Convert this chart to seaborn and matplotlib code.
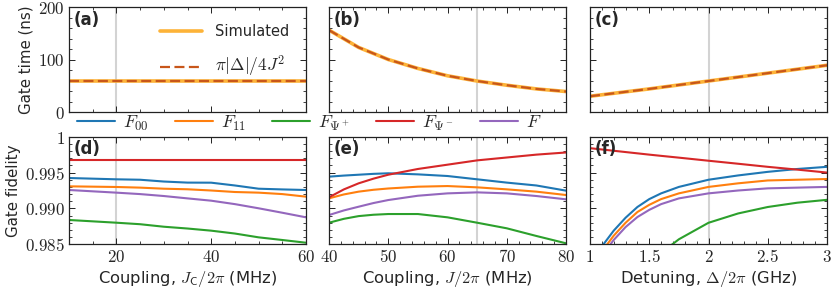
import numpy as np
import pandas as pd
import matplotlib
matplotlib.use('Agg')
import matplotlib.pyplot as plt
from matplotlib.ticker import MultipleLocator, FuncFormatter
import seaborn as sns

sns.set_theme(style='ticks')
plt.rcParams['font.family'] = ['DejaVu Sans']
plt.rcParams['mathtext.fontset'] = 'cm'
plt.rcParams['font.size'] = 10

# ---------------- data ----------------
# (a) gate time vs coupler strength J_C
jc_time = [10, 20, 30, 40, 50, 60]
time_a = [59, 59, 59, 59, 59, 59]
# (b) gate time vs J
j_time = [40, 45, 50, 55, 60, 65, 70, 75, 80]
time_b = [156, 123, 100, 83, 69, 59, 51, 44, 39]
# (c) gate time vs detuning
d_time = [1.0, 1.5, 2.0, 2.5, 3.0]
time_c = [30, 44, 59, 74, 89]

# (d) fidelity vs J_C
jc = [10, 20, 25, 30, 35, 40, 45, 50, 55, 60]
d_F00 = [0.99424, 0.99406, 0.99400, 0.99375, 0.99360, 0.99359, 0.99320, 0.99275, 0.99265, 0.99257]
d_F11 = [0.99308, 0.99299, 0.99290, 0.99275, 0.99267, 0.99250, 0.99229, 0.99220, 0.99200, 0.99164]
d_Fp = [0.98839, 0.98801, 0.98780, 0.98745, 0.98720, 0.98690, 0.98650, 0.98597, 0.98560, 0.98522]
d_Fm = [0.99670, 0.99670, 0.99670, 0.99670, 0.99670, 0.99670, 0.99670, 0.99670, 0.99670, 0.99670]
d_F = [0.99257, 0.99220, 0.99200, 0.99173, 0.99140, 0.99108, 0.99060, 0.99002, 0.98940, 0.98876]

# (e) fidelity vs J
jj = [40, 42.5, 45, 47.5, 50, 55, 60, 65, 70, 75, 80]
e_F00 = [0.99443, 0.99458, 0.99470, 0.99482, 0.99490, 0.99475, 0.99452, 0.99406, 0.99360, 0.99320, 0.99248]
e_F11 = [0.99141, 0.99195, 0.99234, 0.99260, 0.99278, 0.99303, 0.99312, 0.99294, 0.99266, 0.99234, 0.99187]
e_Fp = [0.98801, 0.98855, 0.98893, 0.98912, 0.98922, 0.98922, 0.98876, 0.98801, 0.98723, 0.98616, 0.98514]
e_Fm = [0.99155, 0.99265, 0.99350, 0.99415, 0.99470, 0.99550, 0.99610, 0.99670, 0.99710, 0.99750, 0.99780]
e_F = [0.98908, 0.98972, 0.99024, 0.99075, 0.99117, 0.99177, 0.99210, 0.99224, 0.99210, 0.99173, 0.99127]

# (f) fidelity vs detuning
dd = [1.0, 1.1, 1.2, 1.3, 1.4, 1.5, 1.6, 1.75, 2.0, 2.25, 2.5, 2.75, 3.0]
f_F00 = [0.9822, 0.9847, 0.9869, 0.9887, 0.9902, 0.9913, 0.9921, 0.9930, 0.9940, 0.9946, 0.9951, 0.9955, 0.9958]
f_F11 = [0.9812, 0.9840, 0.9862, 0.9880, 0.9895, 0.9905, 0.9913, 0.9921, 0.9930, 0.9935, 0.9939, 0.9940, 0.9941]
f_Fp = [0.9700, 0.9730, 0.9760, 0.9785, 0.9805, 0.9822, 0.9838, 0.9857, 0.9880, 0.9893, 0.9902, 0.9908, 0.9912]
f_Fm = [0.9984, 0.99822, 0.99804, 0.99786, 0.99768, 0.9975, 0.99733, 0.99708, 0.99665, 0.99623, 0.9958, 0.99541, 0.9950]
f_F = [0.9805, 0.9834, 0.9856, 0.9874, 0.9888, 0.9898, 0.9906, 0.9914, 0.9921, 0.9925, 0.9928, 0.9929, 0.9930]

markers_x = [20, 65, 2.0]
fid_names = ['$F_{00}$', '$F_{11}$', '$F_{\\Psi^+}$', '$F_{\\Psi^-}$', '$F$']
fid_colors = ['#1f77b4', '#ff7f0e', '#2ca02c', '#d62728', '#9467bd']
sim_color = '#fdb338'
ana_color = '#c8561a'

fig = plt.figure(figsize=(8.31, 2.91), dpi=100)
W, H = 831, 291
lefts = [69, 329, 590]
aw = 237
axes_top = [fig.add_axes([l / W, 1 - 112 / H, aw / W, 105 / H]) for l in lefts]
axes_bot = [fig.add_axes([l / W, 1 - 244.3 / H, aw / W, 107.6 / H]) for l in lefts]

time_sets = [(jc_time, time_a), (j_time, time_b), (d_time, time_c)]
fid_sets = [(jc, [d_F00, d_F11, d_Fp, d_Fm, d_F]),
            (jj, [e_F00, e_F11, e_Fp, e_Fm, e_F]),
            (dd, [f_F00, f_F11, f_Fp, f_Fm, f_F])]
xlims = [(10, 60), (40, 80), (1, 3)]
xmaj = [20, 10, 0.5]
xmin = [5, 2, 0.1]
labels_top = ['(a)', '(b)', '(c)']
labels_bot = ['(d)', '(e)', '(f)']
xlabels = ['Coupling, $J_\\mathsf{C}/2\\pi$ (MHz)',
           'Coupling, $J/2\\pi$ (MHz)',
           'Detuning, $\\Delta/2\\pi$ (GHz)']


def mfmt(v, pos):
    s = f'{v:g}'
    return f'${s}$'


def style(ax, i):
    ax.set_xlim(*xlims[i])
    ax.xaxis.set_major_locator(MultipleLocator(xmaj[i]))
    ax.xaxis.set_minor_locator(MultipleLocator(xmin[i]))
    ax.tick_params(which='both', direction='in', top=True, right=True,
                   labelsize=12.2, pad=3, color='#222222')
    ax.tick_params(which='major', length=4, width=0.7)
    ax.tick_params(which='minor', length=2, width=0.6)
    for s in ax.spines.values():
        s.set_linewidth(0.9)
        s.set_color('#222222')
    ax.axvline(markers_x[i], color='#d3d3d3', lw=1.5, zorder=0)


for i, ax in enumerate(axes_top):
    x, t = time_sets[i]
    df = pd.DataFrame({'x': x, 't': t})
    sns.lineplot(data=df, x='x', y='t', ax=ax, color=sim_color, lw=2.6,
                 label='Simulated', legend=False)
    sns.lineplot(data=df, x='x', y='t', ax=ax, color=ana_color, lw=1.6,
                 ls=(0, (4.5, 2)), label='$\\pi|\\Delta|/4J^2$', legend=False)
    style(ax, i)
    ax.set_ylim(0, 200)
    ax.yaxis.set_major_locator(MultipleLocator(100))
    ax.yaxis.set_minor_locator(MultipleLocator(20))
    ax.set_xlabel('')
    ax.set_ylabel('')
    ax.tick_params(labelbottom=False)
    if i == 0:
        ax.yaxis.set_major_formatter(FuncFormatter(mfmt))
        ax.set_ylabel('Gate time (ns)', fontsize=10.8, labelpad=3)
        leg = ax.legend(loc='upper right', frameon=False, fontsize=10.5,
                        handlelength=2.9, handletextpad=0.9, labelspacing=1.05,
                        borderaxespad=0.75)
        leg.get_texts()[1].set_fontsize(12.5)
    else:
        ax.tick_params(labelleft=False)
    ax.text(0.02, 0.965, labels_top[i], transform=ax.transAxes, fontsize=12,
            fontweight='bold', va='top', ha='left')

for i, ax in enumerate(axes_bot):
    x, series = fid_sets[i]
    for name, col, y in zip(fid_names, fid_colors, series):
        df = pd.DataFrame({'x': x, 'F': y})
        sns.lineplot(data=df, x='x', y='F', ax=ax, color=col, lw=1.5,
                     label=name, legend=False)
    style(ax, i)
    ax.set_ylim(0.985, 1.0)
    ax.yaxis.set_major_locator(MultipleLocator(0.005))
    ax.yaxis.set_minor_locator(MultipleLocator(0.001))
    ax.xaxis.set_major_formatter(FuncFormatter(mfmt))
    ax.set_xlabel(xlabels[i], fontsize=11.8, labelpad=2)
    ax.set_ylabel('')
    if i == 0:
        ax.yaxis.set_major_formatter(FuncFormatter(
            lambda v, p: '$1$' if abs(v - 1) < 1e-9 else f'${v:.3f}$'))
        ax.set_ylabel('Gate fidelity', fontsize=10.8, labelpad=3)
    else:
        ax.tick_params(labelleft=False)
    ax.text(0.02, 0.965, labels_bot[i], transform=ax.transAxes, fontsize=12,
            fontweight='bold', va='top', ha='left')

h, l = axes_bot[0].get_legend_handles_labels()
fig.legend(h, l, loc='center left', bbox_to_anchor=(75 / W, 1 - 123 / H),
           ncol=5, frameon=False, fontsize=13, handlelength=2.1,
           handletextpad=0.45, columnspacing=1.45, borderaxespad=0, borderpad=0.1)

fig.savefig('out.png', dpi=100)
